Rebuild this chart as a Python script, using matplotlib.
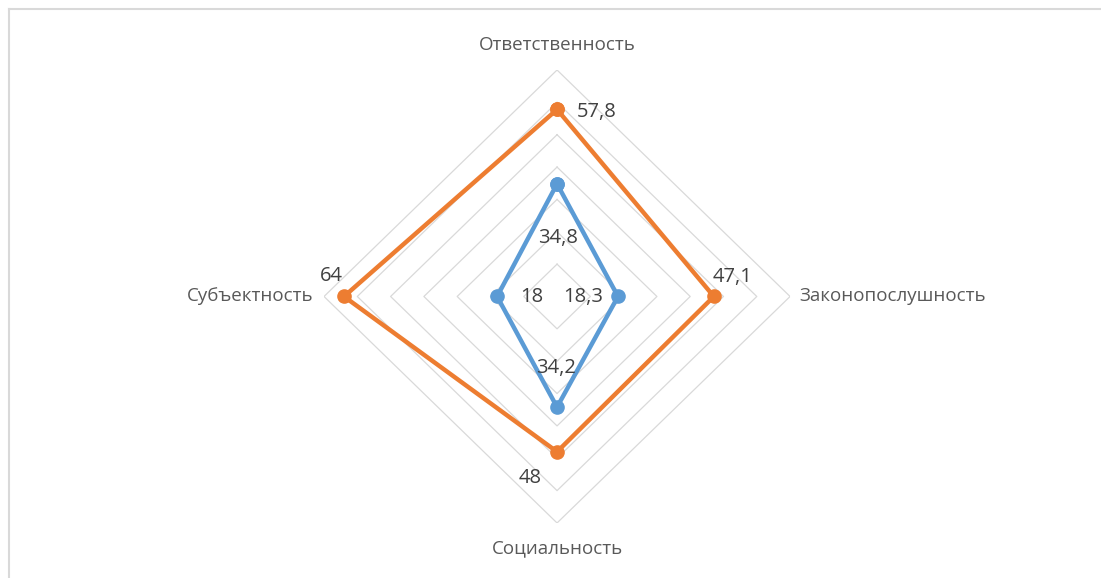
'''
radar chart: two profiles over four scales
'''

import numpy as np
import matplotlib
matplotlib.use('Agg')
import matplotlib.pyplot as plt
from matplotlib.lines import Line2D

categories = ['Ответственность', 'Законопослушность', 'Социальность', 'Субъектность']
blue_vals = [34.8, 18.3, 34.2, 18]
orange_vals = [57.8, 47.1, 48, 64]
blue_labels = ['34,8', '18,3', '34,2', '18']
orange_labels = ['57,8', '47,1', '48', '64']
rings = [10, 20, 30, 40, 50, 60, 70]

BLUE = '#5B9BD5'
ORANGE = '#ED7D31'

plt.rcParams['font.family'] = ['Open Sans', 'DejaVu Sans']

fig = plt.figure(figsize=(11.01, 5.78), dpi=100)
ax = fig.add_axes([0.2943, 0.0952, 0.4233, 0.7837], projection='polar')
ax.set_aspect('auto')
ax.set_theta_zero_location('N')
ax.set_theta_direction(-1)

n = len(categories)
theta = np.arange(n) * 2 * np.pi / n
theta_c = np.append(theta, theta[0])

# polygon grid, no spokes
for r in rings:
    ax.plot(theta_c, [r] * (n + 1), color='#D9D9D9', lw=0.9, zorder=1)

ax.plot(theta_c, blue_vals + blue_vals[:1], color=BLUE, lw=3.2, marker='o', ms=9.5,
        solid_joinstyle='round', zorder=3)
ax.plot(theta_c, orange_vals + orange_vals[:1], color=ORANGE, lw=3.2, marker='o', ms=9.5,
        solid_joinstyle='round', zorder=4)

ax.set_ylim(0, 70)
ax.grid(False)
ax.spines['polar'].set_visible(False)
ax.set_xticks([])
ax.set_yticks([])
ax.patch.set_alpha(0)

# data labels (offsets in pixels, placed like the original)
blue_off = [(1, -54), (-35, -1), (-1, 39), (35, -1)]
orange_off = [(40, -3), (19, 19), (-27, -26), (-13, 20)]
for t, v, lab, off in zip(theta, blue_vals, blue_labels, blue_off):
    ax.annotate(lab, (t, v), xytext=off, textcoords='offset pixels',
                ha='center', va='center', fontsize=14.5, color='#404040', zorder=5)
for t, v, lab, off in zip(theta, orange_vals, orange_labels, orange_off):
    ax.annotate(lab, (t, v), xytext=off, textcoords='offset pixels',
                ha='center', va='center', fontsize=14.5, color='#404040', zorder=5)

# category labels
cat_pos = [((0, 70), (0, 25), 'center'),
           ((np.pi / 2, 70), (9, 0), 'left'),
           ((np.pi, 70), (0, -25), 'center'),
           ((3 * np.pi / 2, 70), (-11, 0), 'right')]
for name, (xy, off, ha) in zip(categories, cat_pos):
    ax.annotate(name, xy, xytext=off, textcoords='offset pixels',
                ha=ha, va='center', fontsize=13.5, color='#595959')

# chart frame (top and left edges visible)
fig.add_artist(Line2D([9 / 1101, 9 / 1101], [0, 1 - 9 / 578], color='#D9D9D9', lw=1.5))
fig.add_artist(Line2D([9 / 1101, 1], [1 - 9 / 578, 1 - 9 / 578], color='#D9D9D9', lw=1.5))

fig.savefig('out.png', dpi=100)
